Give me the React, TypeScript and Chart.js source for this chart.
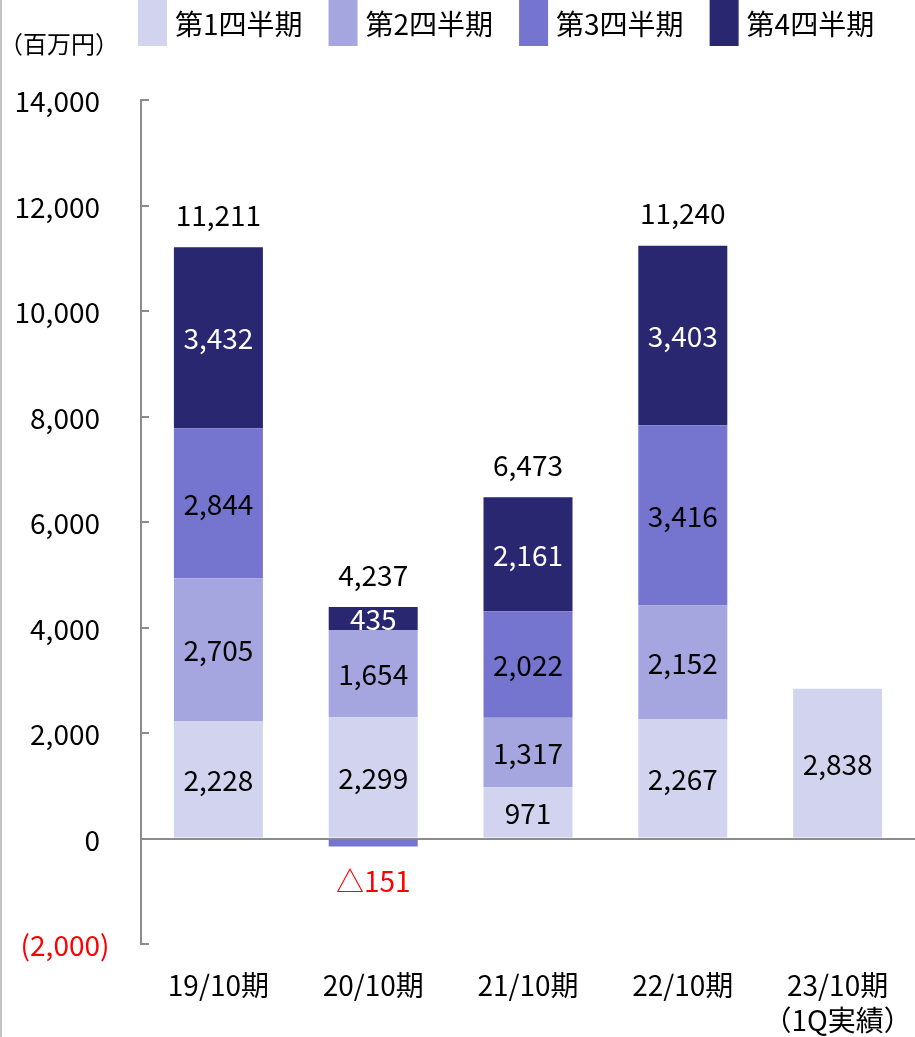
import React, { useEffect, useRef } from "react";
import { Chart, registerables } from "chart.js";

Chart.register(...registerables);

const FONT = '"Noto Sans CJK JP", "Noto Sans", sans-serif';

// Fiscal periods along the x axis
const periods: (string | string[])[] = [
  "19/10期",
  "20/10期",
  "21/10期",
  "22/10期",
  ["23/10期", "（1Q実績）"],
];

// Quarterly figures, million yen
const quarterNames = ["第1四半期", "第2四半期", "第3四半期", "第4四半期"];
const q1Values = [2228, 2299, 971, 2267, 2838];
const q2Values = [2705, 1654, 1317, 2152, null];
const q3Values = [2844, -151, 2022, 3416, null];
const q4Values = [3432, 435, 2161, 3403, null];

// Full-year totals printed above each stack
const yearTotals = [11211, 4237, 6473, 11240, null];

const quarterColors = ["#d2d3ef", "#a5a5df", "#7574ce", "#29276f"];
const quarterTextColors = ["#000000", "#000000", "#000000", "#ffffff"];

const yMin = -2000;
const yMax = 14000;
const yStep = 2000;
const unitLabel = "（百万円）";

const axisGray = "#8c8c8c";
const negativeRed = "#ff0000";

const fmt = (v: number) => Math.abs(v).toLocaleString("en-US");

const chartDecor = {
  id: "chartDecor",
  beforeDraw(chart: any) {
    const { ctx, height } = chart;
    ctx.save();
    ctx.fillStyle = "#c2c2c2";
    ctx.fillRect(0, 0, 2, height);
    ctx.restore();
  },
  afterDraw(chart: any) {
    const { ctx, chartArea } = chart;
    const yScale = chart.scales.y;
    ctx.save();

    // legend row
    ctx.font = `28px ${FONT}`;
    ctx.textBaseline = "middle";
    ctx.textAlign = "left";
    let lx = chartArea.left - 3;
    chart.data.datasets.forEach((ds: any) => {
      ctx.fillStyle = ds.backgroundColor;
      ctx.fillRect(lx, 0, 29, 46);
      ctx.fillStyle = "#000000";
      ctx.fillText(ds.label, lx + 37, 24);
      lx += 37 + ctx.measureText(ds.label).width + 26;
    });

    // unit caption
    ctx.font = `24px ${FONT}`;
    ctx.fillStyle = "#000000";
    ctx.fillText(unitLabel, -1, chartArea.top - 56);

    // y axis ticks (inside) and labels
    ctx.font = `28px ${FONT}`;
    ctx.textAlign = "right";
    const closeW = ctx.measureText(")").width;
    ctx.strokeStyle = axisGray;
    ctx.lineWidth = 2;
    yScale.ticks.forEach((t: any) => {
      const py = Math.round(yScale.getPixelForValue(t.value));
      ctx.beginPath();
      ctx.moveTo(yScale.right, py);
      ctx.lineTo(yScale.right + 8, py);
      ctx.stroke();
      const neg = t.value < 0;
      ctx.fillStyle = neg ? negativeRed : "#000000";
      const text = neg ? `(${fmt(t.value)})` : fmt(t.value);
      ctx.fillText(text, yScale.right - 41 + (neg ? closeW : 0), py + 1);
    });

    // segment values
    ctx.textAlign = "center";
    chart.data.datasets.forEach((ds: any, i: number) => {
      const meta = chart.getDatasetMeta(i);
      meta.data.forEach((el: any, j: number) => {
        const v = ds.data[j];
        if (v === null || v === undefined) return;
        if (v < 0) {
          ctx.fillStyle = negativeRed;
          ctx.fillText(`△${fmt(v)}`, el.x, Math.max(el.y, el.base) + 35);
        } else {
          ctx.fillStyle = quarterTextColors[i];
          ctx.fillText(fmt(v), el.x, (el.y + el.base) / 2 + 1);
        }
      });
    });

    // totals above stacks
    ctx.fillStyle = "#000000";
    yearTotals.forEach((total, j) => {
      if (total === null) return;
      let top = Infinity;
      let x = 0;
      chart.data.datasets.forEach((ds: any, i: number) => {
        const v = ds.data[j];
        if (v === null || v <= 0) return;
        const el = chart.getDatasetMeta(i).data[j];
        if (el.y < top) {
          top = el.y;
          x = el.x;
        }
      });
      ctx.fillText(fmt(total), x, top - 32);
    });

    ctx.restore();
  },
};

export default function App() {
  const canvasRef = useRef<HTMLCanvasElement | null>(null);

  useEffect(() => {
    document.body.style.margin = "0";
    const canvas = canvasRef.current;
    if (!canvas) return;
    const series = [q1Values, q2Values, q3Values, q4Values];
    const chart = new Chart(canvas, {
      type: "bar",
      data: {
        labels: periods,
        datasets: series.map((values, i) => ({
          label: quarterNames[i],
          data: values,
          backgroundColor: quarterColors[i],
          borderWidth: 0,
          stack: "year",
          barPercentage: 0.575,
          categoryPercentage: 1,
        })),
      },
      options: {
        responsive: false,
        animation: false,
        events: [],
        layout: { padding: { top: 100, left: 0, right: 0, bottom: 0 } },
        plugins: {
          legend: { display: false },
          tooltip: { enabled: false },
        },
        scales: {
          x: {
            stacked: true,
            grid: { display: false, drawTicks: false },
            border: { display: false },
            ticks: {
              padding: 24,
              color: "#000000",
              maxRotation: 0,
              autoSkip: false,
              font: { family: FONT, size: 28, lineHeight: 1.25 },
            },
            afterFit: (scale: any) => {
              scale.height = 93;
              scale.paddingLeft = 0;
              scale.paddingRight = 0;
            },
          },
          y: {
            stacked: true,
            min: yMin,
            max: yMax,
            z: 1,
            ticks: { display: false, stepSize: yStep },
            grid: {
              drawTicks: false,
              lineWidth: 2,
              color: (c: any) => (c.tick && c.tick.value === 0 ? axisGray : "rgba(0,0,0,0)"),
            },
            border: { display: true, color: axisGray, width: 2 },
            afterFit: (scale: any) => {
              scale.width = 141;
            },
          },
        },
      },
      plugins: [chartDecor],
    });
    return () => chart.destroy();
  }, []);

  return (
    <div style={{ width: 915, height: 1037, position: "relative", background: "#ffffff" }}>
      <canvas ref={canvasRef} width={915} height={1037} style={{ display: "block" }} />
    </div>
  );
}
